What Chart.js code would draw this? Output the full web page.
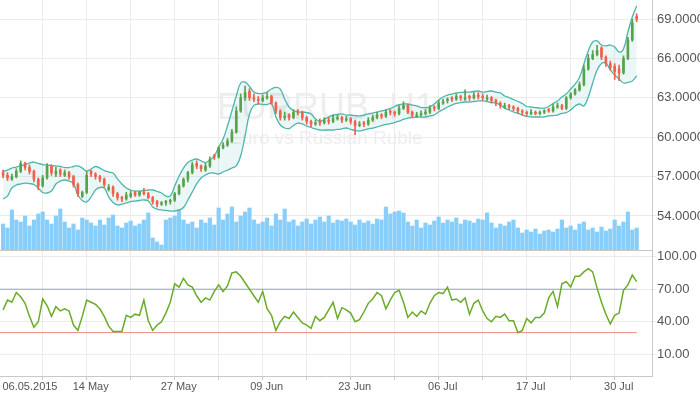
<!DOCTYPE html>
<html><head><meta charset="utf-8">
<script src="https://cdn.jsdelivr.net/npm/chart.js@4.4.1/dist/chart.umd.min.js"></script>
<style>
html,body{margin:0;padding:0;background:#fff;overflow:hidden}
#wrap{position:relative;width:700px;height:394px}
canvas{position:absolute;left:0}
#c1{top:0}
#c2{top:251px}
</style></head>
<body><div id="wrap"><canvas id="c1" width="700" height="251"></canvas><canvas id="c2" width="700" height="143"></canvas></div>
<script>
const symbol = 'EURRUB, H1';
const description = 'Euro vs Russian Ruble';

const opens = [57.3,57.1,56.8,57.0,57.4,58.0,57.7,57.4,56.8,56.3,
56.9,57.8,57.2,57.5,57.1,57.3,57.0,56.4,55.5,55.8,
57.4,57.2,57.0,56.8,56.0,56.2,55.7,55.4,55.3,55.5,
55.8,55.6,55.8,55.7,55.4,55.1,54.9,55.0,55.1,55.2,
55.7,56.3,56.8,57.3,58.0,57.8,57.5,57.8,58.6,58.5,
59.2,59.4,59.7,60.4,62.0,63.0,63.5,63.0,62.9,62.8,
63.0,63.1,62.6,62.0,61.5,61.7,61.5,62.0,61.9,61.5,
61.2,61.0,61.2,61.1,61.3,61.2,61.4,61.5,61.3,61.4,
61.2,60.9,61.1,61.0,61.3,61.5,61.7,61.6,62.0,61.9,
61.8,62.2,62.4,61.9,61.6,61.7,61.8,61.9,62.3,62.2,
62.6,62.8,63.0,62.9,63.1,62.9,63.1,63.0,63.2,63.1,
62.9,63.0,62.8,62.6,62.3,62.4,62.3,62.2,62.0,61.9,
61.8,61.9,61.8,61.9,62.1,62.0,62.3,62.4,62.2,63.0,
63.3,63.6,64.0,65.2,66.0,66.3,66.8,66.1,65.6,65.4,
65.2,64.9,66.0,67.4,69.2];
const highs = [57.5,57.3,57.2,57.6,58.2,58.1,57.9,57.5,56.9,57.1,
58.0,57.9,57.7,57.6,57.5,57.4,57.1,56.5,55.9,57.4,
57.5,57.3,57.1,56.9,56.4,56.3,55.8,55.5,55.8,55.9,
55.9,55.9,56.1,55.8,55.5,55.2,55.1,55.2,55.3,55.8,
56.4,56.9,57.4,58.1,58.2,57.9,58.0,58.5,58.7,59.3,
59.6,59.9,60.6,62.3,63.3,63.9,63.7,63.3,63.1,63.2,
63.4,63.2,62.7,62.1,61.9,61.8,62.1,62.1,62.0,61.6,
61.3,61.3,61.4,61.5,61.5,61.7,61.7,61.6,61.6,61.5,
61.3,61.2,61.2,61.5,61.7,61.9,61.8,62.1,62.1,62.0,
62.4,62.7,62.5,62.0,61.9,62.0,62.1,62.4,62.4,62.8,
62.9,63.0,63.1,63.3,63.2,63.6,63.2,63.4,63.4,63.3,
63.2,63.1,62.9,62.7,62.6,62.5,62.4,62.3,62.1,62.0,
62.1,62.0,62.0,62.1,62.2,62.5,62.6,62.5,63.1,63.4,
63.7,64.2,65.5,66.3,66.6,67.0,66.9,66.2,65.8,65.6,
65.5,66.2,67.6,69.0,69.4];
const lows = [56.9,56.7,56.7,56.9,57.3,57.5,57.2,56.6,56.0,56.2,
56.8,57.1,57.0,57.0,57.0,56.8,56.2,55.5,55.4,55.7,
57.0,56.8,56.6,56.2,55.9,55.5,55.2,55.1,55.2,55.4,
55.5,55.5,55.6,55.3,54.9,54.7,54.8,54.8,54.9,55.1,
55.6,56.2,56.6,57.2,57.6,57.4,57.4,57.7,58.3,58.4,
59.1,59.3,59.6,60.3,61.9,62.8,62.8,62.7,62.5,62.7,
62.9,62.5,61.8,61.3,61.3,61.3,61.4,61.7,61.3,61.0,
60.8,60.9,60.9,61.0,61.0,61.1,61.3,61.1,61.2,61.0,
60.2,60.8,60.8,60.9,61.2,61.4,61.4,61.5,61.7,61.6,
61.7,62.1,61.8,61.5,61.5,61.6,61.7,61.8,62.0,62.1,
62.5,62.6,62.7,62.8,62.8,62.8,62.8,62.9,62.9,62.8,
62.8,62.6,62.4,62.2,62.2,62.1,62.0,61.8,61.7,61.6,
61.7,61.7,61.7,61.8,61.9,61.9,62.2,62.1,62.1,62.9,
63.2,63.5,63.9,65.1,65.9,66.2,65.9,65.4,65.1,64.4,
64.3,64.8,65.9,67.3,68.8];
const closes = [57.1,56.9,57.0,57.4,58.0,57.7,57.4,56.8,56.3,56.9,
57.8,57.3,57.4,57.2,57.3,57.0,56.4,55.7,55.8,57.1,
57.2,57.0,56.8,56.4,56.2,55.7,55.4,55.3,55.6,55.7,
55.6,55.8,55.7,55.4,55.1,54.9,55.0,55.1,55.2,55.7,
56.3,56.8,57.3,57.9,57.8,57.6,57.8,58.3,58.5,59.2,
59.4,59.7,60.4,62.0,63.0,63.4,63.0,62.9,62.8,63.0,
63.1,62.6,62.0,61.5,61.6,61.5,61.9,61.9,61.5,61.2,
61.0,61.1,61.1,61.3,61.2,61.4,61.5,61.3,61.4,61.2,
60.9,61.0,61.0,61.3,61.5,61.7,61.6,61.9,61.9,61.8,
62.2,62.4,61.9,61.7,61.7,61.8,61.9,62.2,62.2,62.6,
62.7,62.9,62.9,63.1,63.0,63.0,63.0,63.2,63.1,63.0,
63.0,62.8,62.6,62.4,62.4,62.3,62.2,62.0,61.9,61.8,
61.9,61.8,61.9,62.0,62.0,62.3,62.4,62.2,63.0,63.3,
63.6,64.0,65.2,66.0,66.3,66.6,66.1,65.6,65.3,65.0,
64.9,66.0,67.4,68.7,69.0];
const volumes = [26,22,40,30,28,34,24,30,36,38,
30,26,34,41,28,22,26,20,32,30,
27,24,30,25,32,35,24,22,27,29,
24,26,30,37,12,8,5,30,32,34,
40,30,26,28,22,30,27,32,25,42,
30,36,43,28,34,38,42,30,26,28,
32,24,36,30,41,28,30,24,28,31,
26,30,33,28,34,27,30,29,31,28,
25,30,27,29,26,31,30,43,36,38,
39,37,28,24,30,22,27,25,29,33,
27,30,28,32,26,30,29,27,31,30,
37,27,22,26,24,28,30,22,17,20,
18,21,16,19,20,18,21,30,22,24,
20,26,28,20,22,18,23,19,21,30,
24,28,38,20,22];
const bbUpper = [57.39,57.50,57.65,57.73,57.81,57.92,58.04,58.11,58.00,57.92,
57.88,57.85,57.81,57.77,57.69,57.69,57.77,57.81,57.65,57.43,
57.58,57.77,57.65,57.46,57.35,57.27,56.82,56.44,56.13,55.98,
55.90,55.90,55.94,55.98,55.98,55.87,55.75,55.52,55.52,56.28,
57.05,57.65,58.07,58.26,58.34,58.19,58.07,58.26,58.57,59.25,
59.86,60.85,62.00,63.14,64.13,64.20,63.86,63.44,63.33,63.33,
63.44,63.67,63.79,63.67,62.91,62.30,62.03,61.92,61.92,61.88,
61.77,61.39,61.23,61.35,61.54,61.69,61.73,61.77,61.69,61.69,
61.65,61.62,61.69,61.77,61.84,61.92,62.00,62.07,62.19,62.34,
62.49,62.53,62.53,62.45,62.38,62.26,62.26,62.30,62.53,62.83,
63.06,63.21,63.29,63.37,63.41,63.44,63.44,63.48,63.52,63.44,
63.48,63.52,63.44,63.37,63.14,63.02,62.87,62.72,62.57,62.34,
62.30,62.26,62.22,62.22,62.34,62.57,62.76,63.06,63.29,63.67,
64.05,64.55,65.58,66.57,67.25,67.33,67.02,66.95,67.02,66.87,
66.49,66.72,68.01,69.16,69.99];
const bbLower = [55.29,55.52,56.13,56.36,56.44,56.51,56.47,56.40,56.13,55.79,
55.75,55.90,56.44,56.66,56.74,56.66,56.44,55.60,55.18,55.07,
55.45,55.98,56.17,56.13,55.45,55.03,54.84,54.91,54.99,55.10,
55.14,55.18,55.22,55.14,54.69,54.53,54.46,54.42,54.38,54.38,
54.46,54.65,55.22,55.83,56.44,56.89,57.12,57.27,57.27,57.20,
57.35,57.50,57.65,57.81,58.57,60.09,61.77,62.42,62.53,62.49,
62.49,62.57,61.54,60.93,60.70,60.66,60.89,61.08,61.01,60.85,
60.74,60.63,60.55,60.55,60.55,60.55,60.59,60.63,60.70,60.59,
60.51,60.47,60.55,60.63,60.70,60.78,60.89,60.97,61.04,61.12,
61.23,61.35,61.46,61.50,61.54,61.54,61.54,61.62,61.69,61.92,
62.11,62.30,62.45,62.57,62.64,62.68,62.68,62.72,62.76,62.76,
62.72,62.64,62.61,62.45,62.22,62.07,61.92,61.81,61.69,61.58,
61.54,61.54,61.54,61.54,61.62,61.65,61.69,61.81,61.88,62.07,
62.38,62.53,62.38,63.06,64.13,65.12,65.61,65.65,65.12,64.74,
64.43,64.13,64.17,64.28,64.66];
const rsi = [51,60,58,67,63,57,45,35,40,61,
55,45,54,50,52,50,37,32,45,60,
58,56,52,45,36,31,31,31,46,44,
47,46,60,41,32,37,40,48,58,75,
72,80,74,72,64,58,62,60,68,74,
68,73,85,86,82,76,70,64,58,68,
52,46,32,40,45,43,49,44,39,37,
34,45,41,44,51,58,43,53,51,48,
40,42,49,57,61,67,64,52,60,67,
69,58,44,49,45,50,47,57,64,67,
66,72,60,61,58,62,47,57,60,50,
43,40,45,44,47,41,41,30,32,43,
39,44,44,48,62,68,54,75,77,72,
82,82,86,89,86,71,58,47,38,46,
48,69,74,83,77];
const rsiLevels = [70, 30];

const gridAt = [10,20,30,40,50,60,70,80,90,100,110,120,130,140];
const dateLabels = ['06.05.2015','14 May','27 May','09 Jun','23 Jun','06 Jul','17 Jul','30 Jul'];
const dateLabelAt = [6.2,20,40,60,80,100,120,140];
const priceTicks = [54,57,60,63,66,69];
const rsiTicks = [10,40,70,100];

const candleNo = opens.map((_, k) => k + 1);
const X_MIN = 0.3, X_MAX = 148.48;
const GREEN = '#57a34b', RED = '#f1604c';
const GRID = '#ebebeb', AXIS = '#c8c8c8', TXT = '#555555';
const FONT = '"Liberation Sans", Arial, sans-serif';
Chart.defaults.font.family = FONT;

const candleColor = c => closes[c.dataIndex] >= opens[c.dataIndex] ? GREEN : RED;
const noPad = s => { s.paddingTop = 0; s.paddingBottom = 0; s.paddingLeft = 0; s.paddingRight = 0; };
const pts = arr => candleNo.map((x, k) => ({x, y: arr[k]}));

const watermark = {
  id: 'watermark',
  beforeDraw(chart) {
    const {ctx, chartArea: a} = chart;
    const cx = (a.left + a.right) / 2;
    ctx.save();
    ctx.fillStyle = '#eeeeee';
    ctx.textAlign = 'center';
    ctx.textBaseline = 'alphabetic';
    ctx.font = '36px ' + FONT;
    ctx.fillText(symbol, cx, 119);
    ctx.font = '19px ' + FONT;
    ctx.fillText(description, cx, 144);
    ctx.restore();
  }
};

new Chart(document.getElementById('c1'), {
  type: 'bar',
  data: { datasets: [
    { type: 'bar', label: 'Volume', data: pts(volumes), yAxisID: 'yVol',
      backgroundColor: '#87cefa', barThickness: 3.5, grouped: false, order: 5 },
    { type: 'line', label: 'Bands upper', data: pts(bbUpper), borderColor: '#4db6ac', borderWidth: 1.3,
      pointRadius: 0, tension: 0.4, fill: '+1', backgroundColor: 'rgba(77,182,172,0.11)', order: 4 },
    { type: 'line', label: 'Bands lower', data: pts(bbLower), borderColor: '#4db6ac', borderWidth: 1.3,
      pointRadius: 0, tension: 0.4, fill: false, order: 3 },
    { type: 'bar', label: 'Wick', data: candleNo.map((x, k) => ({x, y: [lows[k], highs[k]]})),
      backgroundColor: candleColor, barThickness: 1, grouped: false, order: 2 },
    { type: 'bar', label: 'Body', data: candleNo.map((x, k) => ({x, y: [opens[k], closes[k]]})),
      backgroundColor: candleColor, barThickness: 2, minBarLength: 1, grouped: false, order: 1 }
  ]},
  options: {
    responsive: false, animation: false, devicePixelRatio: 1,
    layout: { padding: { left: 0, right: 0, top: 0, bottom: 1 } },
    plugins: { legend: { display: false }, tooltip: { enabled: false } },
    scales: {
      x: { type: 'linear', min: X_MIN, max: X_MAX, offset: false,
        afterBuildTicks: s => { s.ticks = gridAt.map(v => ({value: v})); },
        ticks: { display: false },
        grid: { color: GRID, drawTicks: false, offset: false },
        border: { display: true, color: AXIS },
        afterFit: s => { s.height = 0; noPad(s); } },
      y: { position: 'right', min: 51.41, max: 70.45,
        afterBuildTicks: s => { s.ticks = priceTicks.map(v => ({value: v})); },
        ticks: { callback: v => v.toFixed(4), color: TXT, font: { size: 13 }, padding: 1 },
        grid: { color: GRID, tickLength: 4 },
        border: { color: AXIS },
        afterFit: s => { s.width = 48; noPad(s); } },
      yVol: { display: false, min: 0, max: 250 }
    }
  },
  plugins: [watermark]
});

new Chart(document.getElementById('c2'), {
  type: 'line',
  data: { datasets: [
    { label: 'RSI', data: pts(rsi), borderColor: '#6aab28', borderWidth: 1.5, pointRadius: 0, tension: 0, order: 1 },
    { label: 'Level high', data: [{x: X_MIN, y: rsiLevels[0]}, {x: candleNo[candleNo.length - 1], y: rsiLevels[0]}],
      borderColor: '#98a6b4', borderWidth: 1, pointRadius: 0, order: 2 },
    { label: 'Level low', data: [{x: X_MIN, y: rsiLevels[1]}, {x: candleNo[candleNo.length - 1], y: rsiLevels[1]}],
      borderColor: '#f08a80', borderWidth: 1, pointRadius: 0, order: 3 }
  ]},
  options: {
    responsive: false, animation: false, devicePixelRatio: 1,
    layout: { padding: 0 },
    plugins: { legend: { display: false }, tooltip: { enabled: false } },
    scales: {
      x: { type: 'linear', min: X_MIN, max: X_MAX, offset: false,
        afterBuildTicks: s => { s.ticks = [dateLabelAt[0]].concat(gridAt).map(v => ({value: v})); },
        ticks: { autoSkip: false, maxRotation: 0, minRotation: 0, padding: 0, labelOffset: 4,
          color: TXT, font: { size: 11 },
          callback: v => { const k = dateLabelAt.indexOf(v); return k >= 0 ? dateLabels[k] : ''; } },
        grid: { offset: false, tickLength: 4,
          color: c => (c.tick && gridAt.includes(c.tick.value)) ? GRID : 'rgba(0,0,0,0)',
          tickColor: c => (c.tick && gridAt.includes(c.tick.value)) ? AXIS : 'rgba(0,0,0,0)' },
        border: { color: AXIS },
        afterFit: s => { s.height = 18; noPad(s); } },
      y: { position: 'right', min: -10, max: 105.26,
        afterBuildTicks: s => { s.ticks = rsiTicks.map(v => ({value: v})); },
        ticks: { callback: v => v.toFixed(2), color: TXT, font: { size: 13 }, padding: 1 },
        grid: { color: GRID, tickLength: 4 },
        border: { color: AXIS },
        afterFit: s => { s.width = 48; noPad(s); } }
    }
  }
});
</script>
</body></html>
